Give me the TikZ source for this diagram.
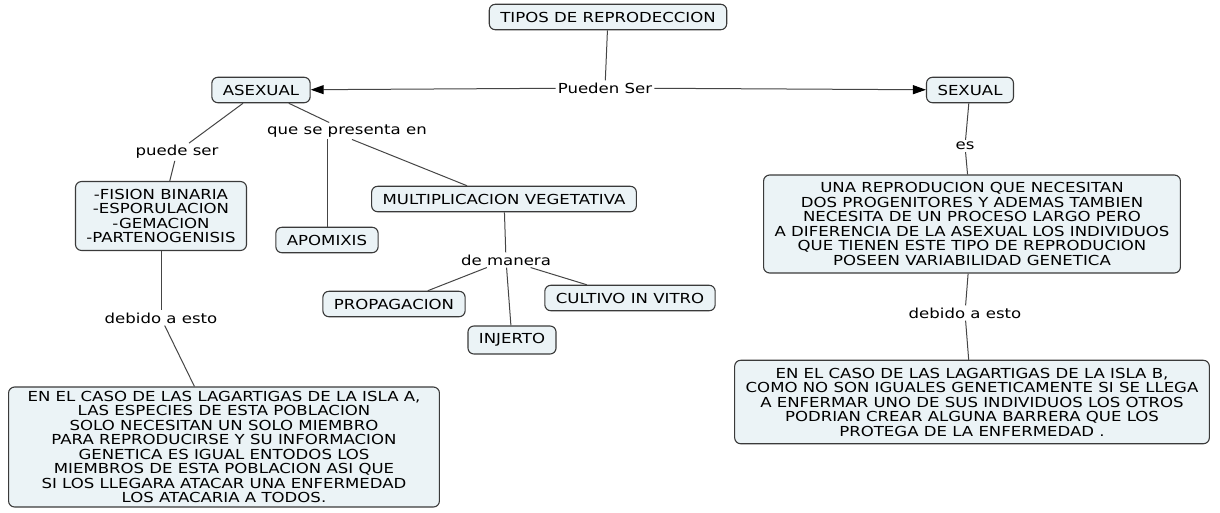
\documentclass[tikz,border=0pt]{standalone}
\usepackage{fontspec}
\setmainfont{DejaVu Sans}[FakeStretch=1.2]
\usetikzlibrary{arrows.meta}

\definecolor{boxfill}{HTML}{EBF3F6}
\definecolor{boxline}{HTML}{3A3A3A}
\definecolor{linkline}{HTML}{454545}

\tikzset{
  concept/.style={draw=boxline, fill=boxfill, line width=1.1pt, rounded corners=6pt,
    align=center, inner xsep=11pt, inner ysep=7.5pt, font=\fontsize{13.8}{14.5}\selectfont},
  linkword/.style={inner sep=2pt, font=\fontsize{13.8}{14.5}\selectfont},
  link/.style={draw=linkline, line width=1pt},
  linkarrow/.style={link, -{Triangle[length=13pt,width=9pt,color=black]}}
}

\begin{document}
\begin{tikzpicture}[x=1pt, y=-1pt]
    \useasboundingbox (0,0) rectangle (1220,512);

    % Draw the concepts
    \node[concept] (tipos) at (608,17) {TIPOS DE REPRODECCION};
    \node[concept] (asexual) at (261,90) {ASEXUAL};
    \node[concept] (sexual) at (970,90) {SEXUAL};
    \node[concept] (formas) at (161,216) {-FISION BINARIA\\-ESPORULACION\\-GEMACION\\-PARTENOGENISIS};
    \node[concept] (apomixis) at (327,240) {APOMIXIS};
    \node[concept] (multiplicacion) at (504,199) {MULTIPLICACION VEGETATIVA};
    \node[concept] (propagacion) at (394,304) {PROPAGACION};
    \node[concept] (cultivo) at (630,298) {CULTIVO IN VITRO};
    \node[concept] (injerto) at (512,340) {INJERTO};
    \node[concept] (sexualdef) at (972,224) {UNA REPRODUCION QUE NECESITAN\\DOS PROGENITORES Y ADEMAS TAMBIEN\\NECESITA DE UN PROCESO LARGO PERO\\A DIFERENCIA DE LA ASEXUAL LOS INDIVIDUOS\\QUE TIENEN ESTE TIPO DE REPRODUCION\\POSEEN VARIABILIDAD GENETICA};
    \node[concept, inner xsep=19pt, inner ysep=4pt] (islaA) at (224,447) {EN EL CASO DE LAS LAGARTIGAS DE LA ISLA A,\\LAS ESPECIES DE ESTA POBLACION\\SOLO NECESITAN UN SOLO MIEMBRO\\PARA REPRODUCIRSE Y SU INFORMACION\\GENETICA ES IGUAL ENTODOS LOS\\MIEMBROS DE ESTA POBLACION ASI QUE\\SI LOS LLEGARA ATACAR UNA ENFERMEDAD\\LOS ATACARIA A TODOS.};
    \node[concept] (islaB) at (972,402) {EN EL CASO DE LAS LAGARTIGAS DE LA ISLA B,\\COMO NO SON IGUALES GENETICAMENTE SI SE LLEGA\\A ENFERMAR UNO DE SUS INDIVIDUOS LOS OTROS\\PODRIAN CREAR ALGUNA BARRERA QUE LOS\\PROTEGA DE LA ENFERMEDAD .};

    % Place the linking words
    \node[linkword] (pueden) at (605,88) {Pueden Ser};
    \node[linkword] (puede) at (177,152) {puede ser};
    \node[linkword] (presenta) at (347,131) {que se presenta en};
    \node[linkword] (manera) at (506,260) {de manera};
    \node[linkword] (debidoA) at (161,318) {debido a esto};
    \node[linkword] (es) at (965,146) {es};
    \node[linkword] (debidoB) at (965,313) {debido a esto};

    % Draw the connectors
    \draw[link] (tipos) -- (pueden);
    \draw[linkarrow] (pueden) -- (asexual);
    \draw[linkarrow] (pueden) -- (sexual);
    \draw[link] (asexual) -- (puede);
    \draw[link] (asexual) -- (presenta);
    \draw[link] (puede) -- (formas);
    \draw[link] (presenta.south -| apomixis.north) -- (apomixis.north);
    \draw[link] ([xshift=5pt]presenta.south) -- ([xshift=-37pt]multiplicacion.north);
    \draw[link] (multiplicacion) -- (manera);
    \draw[link] (manera) -- (propagacion);
    \draw[link] (manera) -- (injerto);
    \draw[link] (manera) -- (cultivo);
    \draw[link] (formas) -- (debidoA);
    \draw[link] (debidoA) -- (islaA);
    \draw[link] (sexual) -- (es);
    \draw[link] (es) -- (sexualdef);
    \draw[link] (sexualdef) -- (debidoB);
    \draw[link] (debidoB) -- (islaB);

\end{tikzpicture}
\end{document}
